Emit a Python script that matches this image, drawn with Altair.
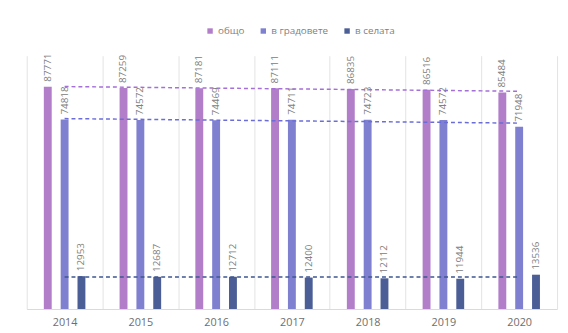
import altair as alt
import pandas as pd

years = [2014, 2015, 2016, 2017, 2018, 2019, 2020]
series_names = ["общо", "в градовете", "в селата"]
total = [87771, 87259, 87181, 87111, 86835, 86516, 85484]
urban = [74818, 74572, 74469, 74711, 74723, 74572, 71948]
rural = [12953, 12687, 12712, 12400, 12112, 11944, 13536]

bar_colors = ["#B27DC9", "#7F80D0", "#4B5E96"]
trend_colors = ["#A46FD8", "#6A6CD8", "#3E5590"]

rows = []
for name, vals in zip(series_names, [total, urban, rural]):
    for yr, v in zip(years, vals):
        rows.append({"year": yr, "series": name, "value": v})
df = pd.DataFrame(rows)

x = alt.X(
    "year:O",
    scale=alt.Scale(paddingInner=0, paddingOuter=0),
    axis=alt.Axis(
        title=None, labelAngle=0, ticks=False, domainColor="#D9D9D9",
        grid=True, gridColor="#E3E3E3", tickBand="extent",
        labelColor="#6E6E6E", labelFontSize=11, labelPadding=8,
        labelFont="Open Sans",
    ),
)
y = alt.Y("value:Q", scale=alt.Scale(domain=[0, 100000]), axis=None)
xoff = alt.XOffset(
    "series:N",
    scale=alt.Scale(domain=series_names, paddingInner=0.5, paddingOuter=1),
)
color = alt.Color(
    "series:N",
    scale=alt.Scale(domain=series_names, range=bar_colors),
    legend=alt.Legend(
        orient="none", legendX=181, legendY=-30, direction="horizontal",
        title=None, symbolType="square", symbolSize=30, symbolStrokeWidth=0,
        labelFontSize=10, labelColor="#7F7F7F", labelFont="Open Sans",
        columnPadding=14, labelOffset=3, padding=0,
    ),
)

base = alt.Chart(df)

bars = base.mark_bar(width=8).encode(x=x, y=y, xOffset=xoff, color=color)

trend = (
    base.transform_regression("year", "value", groupby=["series"])
    .mark_line(strokeDash=[4, 3], strokeWidth=1.5)
    .encode(
        x="year:O",
        y=y,
        stroke=alt.Stroke(
            "series:N",
            scale=alt.Scale(domain=series_names, range=trend_colors),
            legend=None,
        ),
    )
)

labels = base.mark_text(
    angle=270, align="left", baseline="middle", dx=5, fontSize=10,
    color="#808080", font="Open Sans",
).encode(x=x, y=y, xOffset=xoff, text=alt.Text("value:Q", format="d"))

chart = (
    alt.layer(bars, trend, labels)
    .properties(
        width=538, height=257,
        padding={"left": 19, "top": 46, "right": 3, "bottom": 22},
        autosize=alt.AutoSizeParams(type="none"),
        background="white",
    )
    .configure_view(stroke=None)
)

chart.save("out.html", embed_options={"renderer": "svg", "actions": False})
